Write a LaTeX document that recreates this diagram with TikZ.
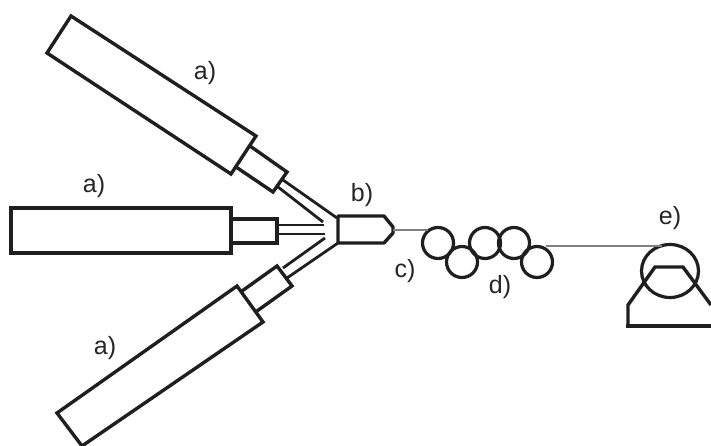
\documentclass[tikz,border=0pt]{standalone}
\usepackage{fontspec}
\setmainfont{Liberation Sans}
\usetikzlibrary{positioning,shapes.geometric}

\begin{document}
\begin{tikzpicture}
%Spray setup
	[
	 	 %Styles
       x=1pt,y=-1pt,
       body_part/.style={draw=black!88,line width=3.4pt,line join=miter},
       tube_line/.style={draw=black!88,line width=2.8pt},
       fibre_line/.style={draw=black!50,line width=1.2pt},
       roller_node/.style={circle,draw=black!88,line width=3.2pt,minimum size=31pt,inner sep=0pt},
       label_simple/.style={font=\fontsize{25}{27}\selectfont,text=black!85,inner sep=0pt}
    ]
    \useasboundingbox (0,0) rectangle (711,446);

    %Top gun
    \draw[body_part] (71,16) -- (256,136) -- (231,174) -- (47,53) -- cycle;
    \draw[body_part] (250,146) -- (287,172) -- (273,192) -- (236,167);
    \draw[tube_line] (283,180) -- (337,218);
    \draw[tube_line] (278,187) -- (323,222);

    %Middle gun
    \draw[body_part] (11,208) rectangle (231,253);
    \draw[body_part] (231,219) -| (277,243) -- (231,243);
    \draw[tube_line] (277,225) -- (324,225);
    \draw[tube_line] (277,234) -- (325,234);

    %Bottom gun
    \draw[body_part] (237,286) -- (263,322) -- (82,446) -- (57,413) -- cycle;
    \draw[body_part] (242,291) -- (277,266) -- (292,286) -- (257,311);
    \draw[tube_line] (283,268) -- (325,238);
    \draw[tube_line] (287,278) -- (338,243);

    %Head
    \draw[body_part,line join=round] (338,216) -- (384,216) -- (393,227) -- (393,233) -- (384,243) -- (338,243) -- cycle;
    \coordinate (nose) at (393,230);

    %Rollers
    \node (roller1) [roller_node] at (438,243) {};
    \node (roller2) [roller_node] at (462,262) {};
    \node (roller3) [roller_node] at (485,243) {};
    \node (roller4) [roller_node] at (514,243) {};
    \node (roller5) [roller_node] at (537,262) {};
    \coordinate (fibre_in) at (428,230);
    \coordinate (fibre_out) at (546,246);

    %Winder
    \node (wheel) [ellipse,draw=black!88,line width=3.2pt,minimum width=57pt,minimum height=53pt,inner sep=0pt] at (670,271) {};
    \coordinate (wheel_in) at (662,246);
    \draw[body_part] (628,326) -- (628,305) -- (655,267) -- (683,267) -- (711,305);
    \draw[body_part] (626,326) -- (711,326);

    %Edges
    \path
       (nose) edge [fibre_line] (fibre_in)
       (fibre_out) edge [fibre_line] (wheel_in);

    %Labels
    \node (label_top) [label_simple] at (205,73) {a)};
    \node (label_mid) [label_simple] at (94,186) {a)};
    \node (label_low) [label_simple] at (105,348) {a)};
    \node (label_head) [label_simple] at (362,195) {b)};
    \node (label_fibre) [label_simple] at (405,271) {c)};
    \node (label_roll) [label_simple] at (500,287) {d)};
    \node (label_wheel) [label_simple] at (670,218) {e)};
\end{tikzpicture}
\end{document}
